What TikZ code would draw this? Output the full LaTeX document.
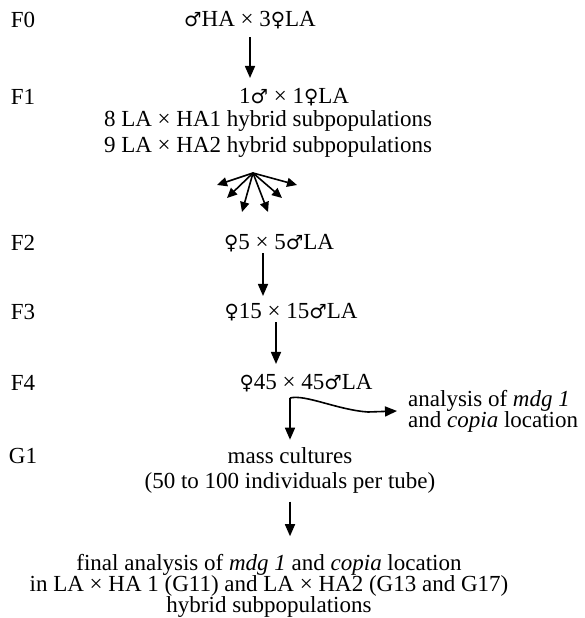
\documentclass[tikz,border=0pt]{standalone}
\usepackage{fontspec}
\setmainfont{Liberation Serif}
\newfontfamily\gsym[Scale=0.85]{DejaVu Sans}
\newcommand{\mal}{{\gsym ♂}}
\newcommand{\fem}{{\gsym ♀}}
\usetikzlibrary{arrows.meta,positioning}

\begin{document}
\begin{tikzpicture}[
    x=1pt, y=-1pt,
    gen/.style={inner sep=0pt, font=\fontsize{23}{23}\selectfont},
    cross/.style={inner sep=0pt, align=center, font=\fontsize{23}{21}\selectfont},
    link/.style={-{Triangle[length=12pt, width=10pt]}, line width=1.6pt},
    spray/.style={-{Triangle[length=10pt, width=9pt]}, line width=1.6pt},
]
    \useasboundingbox (0,0) rectangle (584,618);

    % generations
    \node[gen] (f0) at (23,20) {F0};
    \node[gen] (f1) at (23,97) {F1};
    \node[gen] (f2) at (23,243) {F2};
    \node[gen] (f3) at (23,312) {F3};
    \node[gen] (f4) at (23,383) {F4};
    \node[gen] (g1) at (23,456) {G1};

    % crosses
    \node[cross] (x0) at (250,20) {\mal HA × 3\fem LA};
    \node[cross] (x1) at (294,97) {1\mal{} × 1\fem LA};
    \node[cross] (ha1) at (268,121) {8 LA × HA1 hybrid subpopulations};
    \node[cross] (ha2) at (268,147) {9 LA × HA2 hybrid subpopulations};
    \node[cross] (x2) at (279,243) {\fem 5 × 5\mal LA};
    \node[cross] (x3) at (291,312) {\fem 15 × 15\mal LA};
    \node[cross] (x4) at (306,383) {\fem 45 × 45\mal LA};
    \node[cross] (mass) at (290,456) {mass cultures};
    \node[cross, below=8pt of mass] (tube) {(50 to 100 individuals per tube)};
    \node[cross] (final) at (269,586) {final analysis of \textit{mdg 1} and \textit{copia} location\\in LA × HA 1 (G11) and LA × HA2 (G13 and G17)\\hybrid subpopulations};
    \node[cross, anchor=west, align=left] (side) at (408,411) {analysis of \textit{mdg 1}\\and \textit{copia} location};

    % fan of subpopulations
    \coordinate (fan) at (253,173);
    \foreach \tx/\ty [count=\i] in {217/185, 227/198, 242/212, 268/212, 282/198, 297/185}
        \coordinate (sub\i) at (\tx,\ty);
    \foreach \i in {1,...,6}
        \draw[spray] (fan) -- (sub\i);

    % branch after F4
    \coordinate (split) at (290,398);
    \draw[link, shorten >=8pt] (split) -- (split |- mass.north);
    \draw[link] (split) .. controls (305,394) and (338,410) .. (368,412) -- ([xshift=-11pt]side.west);

    \draw[link, shorten <=8pt, shorten >=10pt] (x0.south) -- (x0.south |- x1.north);
    \draw[link, shorten <=1pt, shorten >=7pt] ([xshift=-16pt]x2.south) -- ([xshift=-16pt]x2.south |- x3.north);
    \draw[link, shorten <=1pt, shorten >=10pt] ([xshift=-15pt]x3.south) -- ([xshift=-15pt]x3.south |- x4.north);
    \draw[link, shorten <=8pt, shorten >=18pt] (tube.south -| mass) -- (mass |- final.north);
\end{tikzpicture}
\end{document}
